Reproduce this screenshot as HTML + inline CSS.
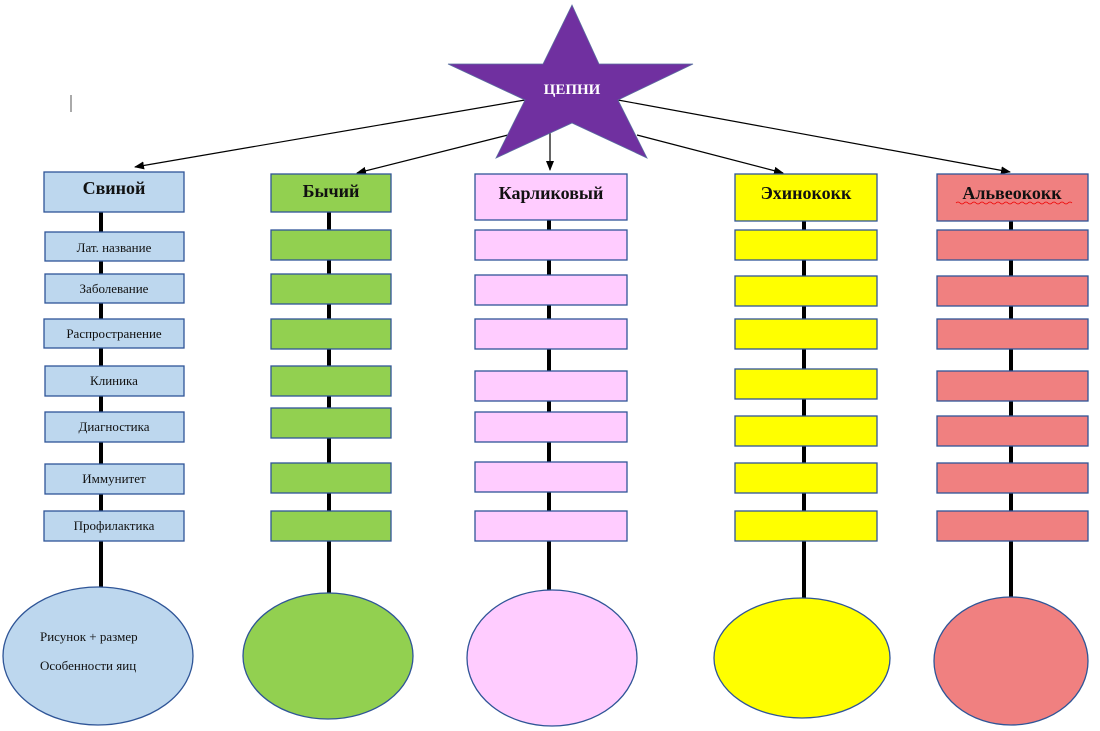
<!DOCTYPE html>
<html><head><meta charset="utf-8"><style>
html,body{margin:0;padding:0;background:#fff;width:1100px;height:731px;overflow:hidden}
svg{display:block}
text{font-family:"Liberation Serif",serif;fill:#111}
</style></head><body>
<svg width="1100" height="731" viewBox="0 0 1100 731" xmlns="http://www.w3.org/2000/svg">
<defs><marker id="a" markerWidth="10" markerHeight="8" refX="9" refY="4" orient="auto" markerUnits="userSpaceOnUse"><path d="M0,0 L10,4 L0,8 z" fill="#000"/></marker></defs>
<line x1="71" y1="95" x2="71" y2="112" stroke="#555" stroke-width="1"/>
<!-- connectors from star -->
<g stroke="#000" stroke-width="1.2" marker-end="url(#a)">
<line x1="525" y1="100" x2="135" y2="167"/>
<line x1="508" y1="135" x2="357" y2="173"/>
<line x1="550" y1="133" x2="550" y2="170"/>
<line x1="637" y1="135" x2="783" y2="173"/>
<line x1="618" y1="100" x2="1010" y2="172"/>
</g>
<polygon points="572,5 599,64 693,64 618,100 647,158 572,123 496,158 525,100 448,64 543,64" fill="#7030A0" stroke="#5a6fa0" stroke-width="0.8"/>
<text x="572" y="94" text-anchor="middle" font-size="15" font-weight="bold" style="fill:#fff">ЦЕПНИ</text>
<!-- vertical lines -->
<g stroke="#000" stroke-width="4">
<line x1="101" y1="212" x2="101" y2="587"/>
<line x1="329" y1="212" x2="329" y2="598"/>
<line x1="549" y1="220" x2="549" y2="591"/>
<line x1="804" y1="220" x2="804" y2="599"/>
<line x1="1011" y1="220" x2="1011" y2="598"/>
</g>
<g stroke="#2F5597" stroke-width="1.3">
<!-- col1 -->
<g fill="#BDD7EE">
<rect x="44" y="172" width="140" height="40"/>
<rect x="45" y="232" width="139" height="29"/>
<rect x="45" y="274" width="139" height="29"/>
<rect x="44" y="319" width="140" height="29"/>
<rect x="45" y="366" width="139" height="30"/>
<rect x="45" y="412" width="139" height="30"/>
<rect x="45" y="464" width="139" height="30"/>
<rect x="44" y="511" width="140" height="30"/>
<ellipse cx="98" cy="656" rx="95" ry="69"/>
</g>
<g fill="#92D050">
<rect x="271" y="174" width="120" height="38"/>
<rect x="271" y="230" width="120" height="30"/>
<rect x="271" y="274" width="120" height="30"/>
<rect x="271" y="319" width="120" height="30"/>
<rect x="271" y="366" width="120" height="30"/>
<rect x="271" y="408" width="120" height="30"/>
<rect x="271" y="463" width="120" height="30"/>
<rect x="271" y="511" width="120" height="30"/>
<ellipse cx="328" cy="656" rx="85" ry="63"/>
</g>
<g fill="#FFCCFF">
<rect x="475" y="174" width="152" height="46"/>
<rect x="475" y="230" width="152" height="30"/>
<rect x="475" y="275" width="152" height="30"/>
<rect x="475" y="319" width="152" height="30"/>
<rect x="475" y="371" width="152" height="30"/>
<rect x="475" y="412" width="152" height="30"/>
<rect x="475" y="462" width="152" height="30"/>
<rect x="475" y="511" width="152" height="30"/>
<ellipse cx="552" cy="658" rx="85" ry="68"/>
</g>
<g fill="#FFFF00">
<rect x="735" y="174" width="142" height="47"/>
<rect x="735" y="230" width="142" height="30"/>
<rect x="735" y="276" width="142" height="30"/>
<rect x="735" y="319" width="142" height="30"/>
<rect x="735" y="369" width="142" height="30"/>
<rect x="735" y="416" width="142" height="30"/>
<rect x="735" y="463" width="142" height="30"/>
<rect x="735" y="511" width="142" height="30"/>
<ellipse cx="802" cy="658" rx="88" ry="60"/>
</g>
<g fill="#F08080">
<rect x="937" y="174" width="151" height="47"/>
<rect x="937" y="230" width="151" height="30"/>
<rect x="937" y="276" width="151" height="30"/>
<rect x="937" y="319" width="151" height="30"/>
<rect x="937" y="371" width="151" height="30"/>
<rect x="937" y="416" width="151" height="30"/>
<rect x="937" y="463" width="151" height="30"/>
<rect x="937" y="511" width="151" height="30"/>
<ellipse cx="1011" cy="661" rx="77" ry="64"/>
</g>
</g>
<g font-weight="bold" font-size="18" text-anchor="middle">
<text x="114" y="194">Свиной</text>
<text x="331" y="197">Бычий</text>
<text x="551" y="199">Карликовый</text>
<text x="806" y="199">Эхинококк</text>
<text x="1012" y="199">Альвеококк</text>
</g>
<path d="M956,203 q2,-2 4,0 t4,0 t4,0 t4,0 t4,0 t4,0 t4,0 t4,0 t4,0 t4,0 t4,0 t4,0 t4,0 t4,0 t4,0 t4,0 t4,0 t4,0 t4,0 t4,0 t4,0 t4,0 t4,0 t4,0 t4,0 t4,0 t4,0 t4,0 t4,0" fill="none" stroke="#e00" stroke-width="0.8"/>
<g font-size="13" text-anchor="middle">
<text x="114" y="252">Лат. название</text>
<text x="114" y="293">Заболевание</text>
<text x="114" y="338">Распространение</text>
<text x="114" y="385">Клиника</text>
<text x="114" y="431">Диагностика</text>
<text x="114" y="483">Иммунитет</text>
<text x="114" y="530">Профилактика</text>
</g>
<g font-size="13">
<text x="40" y="641">Рисунок + размер</text>
<text x="40" y="670">Особенности яиц</text>
</g>
</svg>
</body></html>
